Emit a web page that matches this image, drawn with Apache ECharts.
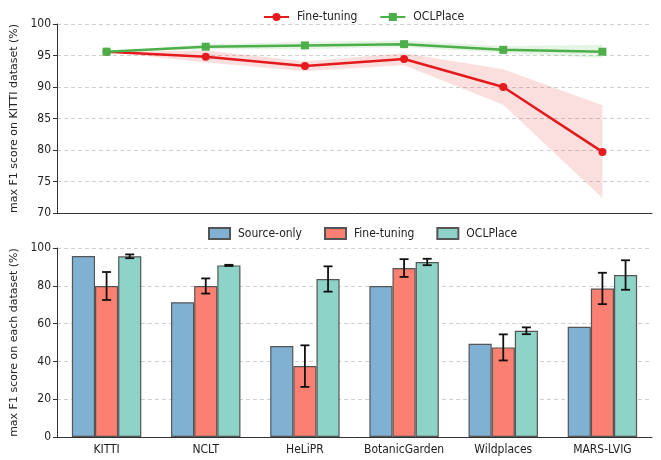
<!DOCTYPE html>
<html><head><meta charset="utf-8">
<script src="https://cdn.jsdelivr.net/npm/echarts@6/dist/echarts.min.js"></script>
<style>html,body{margin:0;padding:0;background:#fff;}#topc{position:absolute;left:0;top:0;width:661px;height:222px;}#botc{position:absolute;left:0;top:216px;width:661px;height:244px;}</style>
</head><body><div id="topc"></div><div id="botc"></div>
<script>
// ---- top chart data ----
var steps = ['1','2','3','4','5','6'];
var ftMean = [95.6, 94.8, 93.35, 94.45, 90.0, 79.7];
var ftLow  = [95.6, 93.9, 92.55, 93.45, 87.2, 72.4];
var ftHigh = [95.6, 95.8, 94.1, 95.35, 92.8, 87.1];
var ocMean = [95.6, 96.4, 96.6, 96.8, 95.9, 95.6];
var ocLow  = [95.6, 96.0, 96.0, 96.3, 95.4, 94.6];
var ocHigh = [95.6, 96.8, 97.2, 97.4, 96.5, 96.7];
// ---- bottom chart data ----
var datasets = ['KITTI','NCLT','HeLiPR','BotanicGarden','Wildplaces','MARS-LVIG'];
var srcVals = [95.8, 71.3, 48.1, 79.9, 49.3, 58.3];
var ftVals  = [79.9, 79.9, 37.5, 89.4, 47.4, 78.6];
var ftErr   = [7.4, 4.0, 11.0, 4.7, 6.9, 8.3];
var ocVals  = [95.6, 90.8, 83.6, 92.6, 56.2, 85.7];
var ocErr   = [1.0, 0.3, 6.7, 1.7, 1.8, 7.8];

var FONT = "'Liberation Sans Narrow','DejaVu Sans Condensed','DejaVu Sans',sans-serif";
var TXT = '#222';

function diff(a,b){return a.map(function(v,i){return +(v-b[i]).toFixed(3);});}

var topChart = echarts.init(document.getElementById('topc'), null, {renderer:'canvas'});
topChart.setOption({
  animation:false,
  textStyle:{fontFamily:FONT},
  legend:{top:6,left:258,itemWidth:25,itemHeight:10,itemGap:22,
    textStyle:{fontFamily:FONT,fontSize:12,color:TXT,padding:[0,0,0,3]},
    data:['Fine-tuning','OCLPlace']},
  grid:{left:57,width:595,top:24,height:189},
  xAxis:{type:'category',data:steps,boundaryGap:true,
    axisLine:{lineStyle:{color:'#333',width:1}},
    axisTick:{alignWithLabel:true,length:5,lineStyle:{color:'#333'}},
    axisLabel:{show:false},splitLine:{show:false}},
  yAxis:{type:'value',min:70,max:100,interval:5,
    name:'max F1 score on KITTI dataset (%)',nameLocation:'middle',nameGap:31,
    nameTextStyle:{fontFamily:"'DejaVu Sans',sans-serif",fontSize:11,color:TXT},
    axisLine:{show:true,lineStyle:{color:'#333'}},
    axisTick:{show:true,length:4,lineStyle:{color:'#333'}},
    axisLabel:{fontFamily:FONT,fontSize:12,color:TXT,margin:6},
    splitLine:{lineStyle:{type:[4,3],color:'#d0d0d0'}}},
  series:[
    {name:'ftLow',type:'line',stack:'ft',data:ftLow,symbol:'none',lineStyle:{opacity:0},silent:true,z:1},
    {name:'ftBand',type:'line',stack:'ft',data:diff(ftHigh,ftLow),symbol:'none',lineStyle:{opacity:0},
      areaStyle:{color:'rgba(228,26,28,0.2)',origin:'auto'},silent:true,z:1},
    {name:'ocLow',type:'line',stack:'oc',data:ocLow,symbol:'none',lineStyle:{opacity:0},silent:true,z:1},
    {name:'ocBand',type:'line',stack:'oc',data:diff(ocHigh,ocLow),symbol:'none',lineStyle:{opacity:0},
      areaStyle:{color:'rgba(77,175,74,0.2)',origin:'auto'},silent:true,z:1},
    {name:'Fine-tuning',type:'line',data:ftMean,symbol:'circle',symbolSize:8,
      itemStyle:{color:'#e41a1c'},lineStyle:{color:'#e41a1c',width:2.5},z:3},
    {name:'OCLPlace',type:'line',data:ocMean,symbol:'rect',symbolSize:8,
      itemStyle:{color:'#4daf4a'},lineStyle:{color:'#4daf4a',width:2.5},z:4}
  ]
});

var botChart = echarts.init(document.getElementById('botc'), null, {renderer:'canvas'});
function errSeries(name, vals, errs, slot){
  return {name:name,type:'custom',silent:true,z:10,
    data:vals.map(function(v,i){return [i, v-errs[i], v+errs[i]];}),
    renderItem:function(params, api){
      var i = api.value(0);
      var lo = api.coord([i, api.value(1)]);
      var hi = api.coord([i, api.value(2)]);
      var band = api.size([1,0])[0];
      var bw = band*0.7/3;
      var x = lo[0] + slot*bw;
      var cap = 4.5;
      var st = {stroke:'#111',lineWidth:1.8};
      return {type:'group',children:[
        {type:'line',shape:{x1:x,y1:lo[1],x2:x,y2:hi[1]},style:st},
        {type:'line',shape:{x1:x-cap,y1:lo[1],x2:x+cap,y2:lo[1]},style:st},
        {type:'line',shape:{x1:x-cap,y1:hi[1],x2:x+cap,y2:hi[1]},style:st}
      ]};
    }};
}
var barBorder = {borderColor:'#555',borderWidth:1.2};
botChart.setOption({
  animation:false,
  textStyle:{fontFamily:FONT},
  legend:{top:6,left:203,icon:'rect',itemWidth:21,itemHeight:11,itemGap:22,
    textStyle:{fontFamily:FONT,fontSize:12,color:TXT,padding:[0,0,0,3]},
    data:['Source-only','Fine-tuning','OCLPlace']},
  grid:{left:57,width:595,top:32,height:189},
  xAxis:{type:'category',data:datasets,boundaryGap:true,
    axisLine:{lineStyle:{color:'#333',width:1}},
    axisTick:{alignWithLabel:true,length:4,lineStyle:{color:'#333'}},
    axisLabel:{interval:0,fontFamily:FONT,fontSize:12,color:TXT,margin:7},splitLine:{show:false}},
  yAxis:{type:'value',min:0,max:100,interval:20,
    name:'max F1 score on each dataset (%)',nameLocation:'middle',nameGap:31,
    nameTextStyle:{fontFamily:"'DejaVu Sans',sans-serif",fontSize:11,color:TXT},
    axisLine:{show:true,lineStyle:{color:'#333'}},
    axisTick:{show:true,length:4,lineStyle:{color:'#333'}},
    axisLabel:{fontFamily:FONT,fontSize:12,color:TXT,margin:6},
    splitLine:{lineStyle:{type:[4,3],color:'#d0d0d0'}}},
  series:[
    {name:'Source-only',type:'bar',data:srcVals,barGap:'0%',barCategoryGap:'30%',
      itemStyle:Object.assign({color:'#80b1d3'},barBorder)},
    {name:'Fine-tuning',type:'bar',data:ftVals,barGap:'0%',barCategoryGap:'30%',
      itemStyle:Object.assign({color:'#fb8072'},barBorder)},
    {name:'OCLPlace',type:'bar',data:ocVals,barGap:'0%',barCategoryGap:'30%',
      itemStyle:Object.assign({color:'#8dd3c7'},barBorder)},
    errSeries('ftErr', ftVals, ftErr, 0),
    errSeries('ocErr', ocVals, ocErr, 1)
  ]
});
</script></body></html>
